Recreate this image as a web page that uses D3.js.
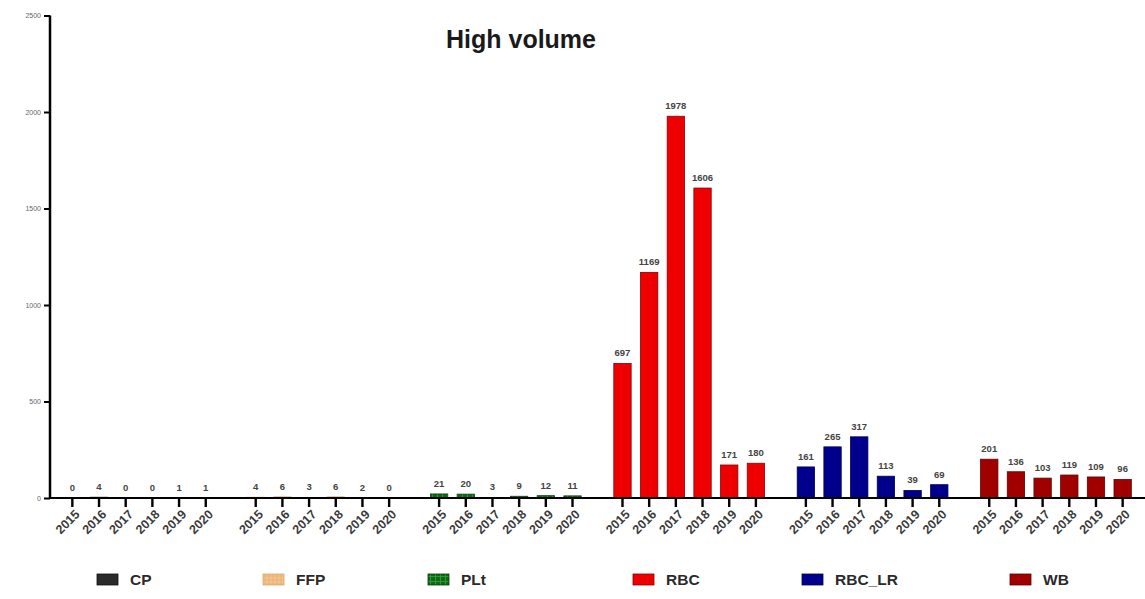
<!DOCTYPE html>
<html>
<head>
<meta charset="utf-8">
<script src="https://cdn.jsdelivr.net/npm/d3@7"></script>
<style>
  html, body { margin: 0; padding: 0; background: #fff; }
  svg { display: block; }
</style>
</head>
<body>
<svg id="chart" width="1145" height="599"></svg>
<script>
// ---- Data ----
const groups = ["CP", "FFP", "PLt", "RBC", "RBC_LR", "WB"];
const years = ["2015", "2016", "2017", "2018", "2019", "2020"];
const valuesCP = [0, 4, 0, 0, 1, 1];
const valuesFFP = [4, 6, 3, 6, 2, 0];
const valuesPLt = [21, 20, 3, 9, 12, 11];
const valuesRBC = [697, 1169, 1978, 1606, 171, 180];
const valuesRBC_LR = [161, 265, 317, 113, 39, 69];
const valuesWB = [201, 136, 103, 119, 109, 96];
const yTicks = [0, 500, 1000, 1500, 2000, 2500];
const title = "High volume";

const seriesValues = [valuesCP, valuesFFP, valuesPLt, valuesRBC, valuesRBC_LR, valuesWB];
const colors = {
  CP: "#2a2a2a", FFP: "#f3c48e", PLt: "#0b6a12",
  RBC: "#ee0000", RBC_LR: "#00008c", WB: "#a10000"
};
const strokes = {
  CP: "#111", FFP: "#d9a868", PLt: "#063d0a",
  RBC: "#8a0000", RBC_LR: "#000050", WB: "#5e0000"
};

const svg = d3.select("#chart");
const y = d3.scaleLinear().domain([0, 2500]).range([498, 15.5]);

const xGroup = d3.scaleBand().domain(groups).range([59, 1136])
  .paddingInner(0.127).paddingOuter(0);
const xYear = d3.scaleBand().domain(years).range([0, xGroup.bandwidth()])
  .paddingInner(0.35).paddingOuter(0.175);

// patterns
const defs = svg.append("defs");
const pF = defs.append("pattern").attr("id", "patFFP").attr("patternUnits", "userSpaceOnUse")
  .attr("width", 4).attr("height", 4);
pF.append("rect").attr("width", 4).attr("height", 4).attr("fill", colors.FFP);
pF.append("path").attr("d", "M0,2H4M2,0V4").attr("stroke", "#e0a868").attr("stroke-width", 0.6);
const pP = defs.append("pattern").attr("id", "patPLt").attr("patternUnits", "userSpaceOnUse")
  .attr("width", 5).attr("height", 5);
pP.append("rect").attr("width", 5).attr("height", 5).attr("fill", colors.PLt);
pP.append("path").attr("d", "M0,2.5H5M2.5,0V5").attr("stroke", "#3aa040").attr("stroke-width", 0.8);
const fills = {
  CP: colors.CP, FFP: "url(#patFFP)", PLt: "url(#patPLt)",
  RBC: colors.RBC, RBC_LR: colors.RBC_LR, WB: colors.WB
};

// flatten
const rows = [];
groups.forEach((g, gi) => {
  years.forEach((yr, yi) => rows.push({ group: g, year: yr, value: seriesValues[gi][yi] }));
});

// bars
svg.append("g").selectAll("rect").data(rows).join("rect")
  .attr("x", d => xGroup(d.group) + xYear(d.year))
  .attr("y", d => y(d.value))
  .attr("width", xYear.bandwidth())
  .attr("height", d => y(0) - y(d.value))
  .attr("fill", d => fills[d.group])
  .attr("stroke", d => d.value > 0 ? strokes[d.group] : "none")
  .attr("stroke-width", 0.8);

// value labels
svg.append("g").selectAll("text").data(rows).join("text")
  .attr("x", d => xGroup(d.group) + xYear(d.year) + xYear.bandwidth() / 2)
  .attr("y", d => y(d.value) - 7)
  .attr("text-anchor", "middle")
  .attr("font-family", "Liberation Sans, Arial, sans-serif")
  .attr("font-size", 9.5)
  .attr("font-weight", "bold")
  .attr("fill", "#444")
  .text(d => d.value);

// Y axis
const yAxis = svg.append("g").attr("transform", "translate(50,0)")
  .call(d3.axisLeft(y).tickValues(yTicks).tickSize(6).tickPadding(3).tickFormat(d3.format("d")));
yAxis.select(".domain").attr("stroke", "#000").attr("stroke-width", 2.5)
  .attr("d", `M0,${y(2500)}V${y(0)}`);
yAxis.selectAll(".tick line").attr("stroke", "#000").attr("stroke-width", 2);
yAxis.selectAll(".tick text").attr("font-family", "Liberation Sans, Arial, sans-serif")
  .attr("font-size", 7).attr("fill", "#666");

// X axis baseline
svg.append("line").attr("x1", 49).attr("x2", 1145).attr("y1", y(0)).attr("y2", y(0))
  .attr("stroke", "#000").attr("stroke-width", 2.2);

// X ticks and labels
const xt = svg.append("g").selectAll("g").data(rows).join("g")
  .attr("transform", d => `translate(${xGroup(d.group) + xYear(d.year) + xYear.bandwidth() / 2},${y(0)})`);
xt.append("line").attr("y1", 0).attr("y2", 9).attr("stroke", "#000").attr("stroke-width", 2.4);
xt.append("text")
  .attr("transform", "translate(5,14) rotate(-45)")
  .attr("text-anchor", "end")
  .attr("dy", "0.35em")
  .attr("font-family", "Liberation Sans, Arial, sans-serif")
  .attr("font-size", 12.5)
  .attr("font-weight", "bold")
  .attr("fill", "#3a3a3a")
  .text(d => d.year);

// title
svg.append("text").attr("x", 521).attr("y", 48).attr("text-anchor", "middle")
  .attr("font-family", "Liberation Sans, Arial, sans-serif")
  .attr("font-size", 25).attr("font-weight", "bold").attr("fill", "#1a1a1a")
  .text(title);

// legend
const legendX = [97, 263, 428, 633, 802, 1010];
const lg = svg.append("g").selectAll("g").data(groups).join("g")
  .attr("transform", (d, i) => `translate(${legendX[i]},574)`);
lg.append("rect").attr("width", 21).attr("height", 11)
  .attr("fill", d => fills[d]).attr("stroke", d => strokes[d]).attr("stroke-width", 0.8);
lg.append("text").attr("x", 33).attr("y", 6).attr("dy", "0.35em")
  .attr("font-family", "Liberation Sans, Arial, sans-serif")
  .attr("font-size", 15.5).attr("font-weight", "bold").attr("fill", "#2a2a2a")
  .text(d => d);
</script>
</body>
</html>
